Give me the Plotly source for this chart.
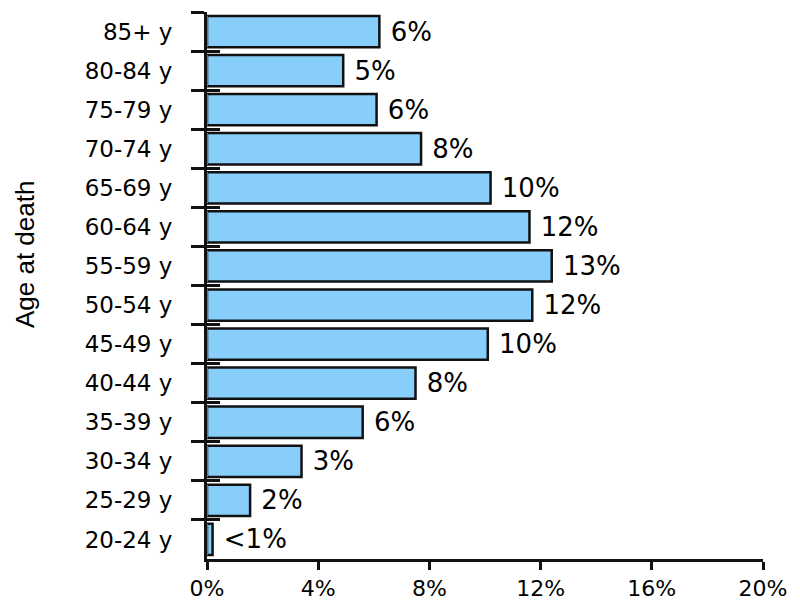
import plotly.graph_objects as go

categories = ["85+ y", "80-84 y", "75-79 y", "70-74 y", "65-69 y", "60-64 y", "55-59 y",
              "50-54 y", "45-49 y", "40-44 y", "35-39 y", "30-34 y", "25-29 y", "20-24 y"]
values = [6.2, 4.9, 6.1, 7.7, 10.2, 11.6, 12.4, 11.7, 10.1, 7.5, 5.6, 3.4, 1.55, 0.2]
labels = ["6%", "5%", "6%", "8%", "10%", "12%", "13%", "12%", "10%", "8%", "6%", "3%", "2%", "<1%"]
x_ticks = [0, 4, 8, 12, 16, 20]

fig = go.Figure()
fig.add_trace(go.Bar(
    y=categories, x=values, orientation="h",
    text=[" " + t for t in labels], textposition="outside",
    textfont=dict(family="DejaVu Sans", size=26, color="#000000"),
    marker=dict(color="#87CEFA", line=dict(color="#111111", width=2.5)),
    cliponaxis=False, hoverinfo="skip",
))
# invisible companion trace for the inner tick marks axis
fig.add_trace(go.Bar(
    y=categories, x=[0] * len(categories), orientation="h", yaxis="y2",
    marker=dict(color="rgba(0,0,0,0)"), hoverinfo="skip", showlegend=False,
))

fig.update_layout(
    width=800, height=600,
    margin=dict(l=199, r=45, t=4, b=49, autoexpand=False),
    paper_bgcolor="white", plot_bgcolor="white",
    bargap=0.2, barmode="overlay", showlegend=False,
    font=dict(family="DejaVu Sans", size=23, color="#000000"),
    yaxis2=dict(
        overlaying="y", side="left", type="category",
        categoryorder="array", categoryarray=categories, autorange=False, range=[13.5, -0.5],
        showgrid=False, zeroline=False, showline=False, showticklabels=False,
        ticks="inside", tickson="boundaries", ticklen=13, tickwidth=3, tickcolor="#111111",
        fixedrange=True,
    ),
    yaxis=dict(
        type="category",
        categoryorder="array", categoryarray=categories, autorange=False, range=[13.5, -0.5],
        showgrid=False, zeroline=False, showline=True, linecolor="#111111", linewidth=3,
        ticks="outside", tickson="boundaries", ticklen=13, tickwidth=3, tickcolor="#111111",
        tickfont=dict(family="DejaVu Sans", size=23, color="#000000"),
        ticklabelstandoff=27,
        automargin=False, fixedrange=True,
    ),
)
fig.update_xaxes(
    range=[0, 20], tickvals=x_ticks, ticktext=[f"{v}%" for v in x_ticks],
    showgrid=False, zeroline=False, showline=True, linecolor="#111111", linewidth=3,
    ticks="outside", ticklen=8, tickwidth=3, tickcolor="#111111",
    tickfont=dict(family="DejaVu Sans", size=22, color="#000000"),
    automargin=False, fixedrange=True,
)
fig.add_annotation(
    text="Age at death", xref="paper", yref="paper", x=-0.327, y=0.556,
    xanchor="center", yanchor="middle", textangle=-90, showarrow=False,
    font=dict(family="Liberation Sans", size=26, color="#000000"),
)

fig.write_html("out.html")
